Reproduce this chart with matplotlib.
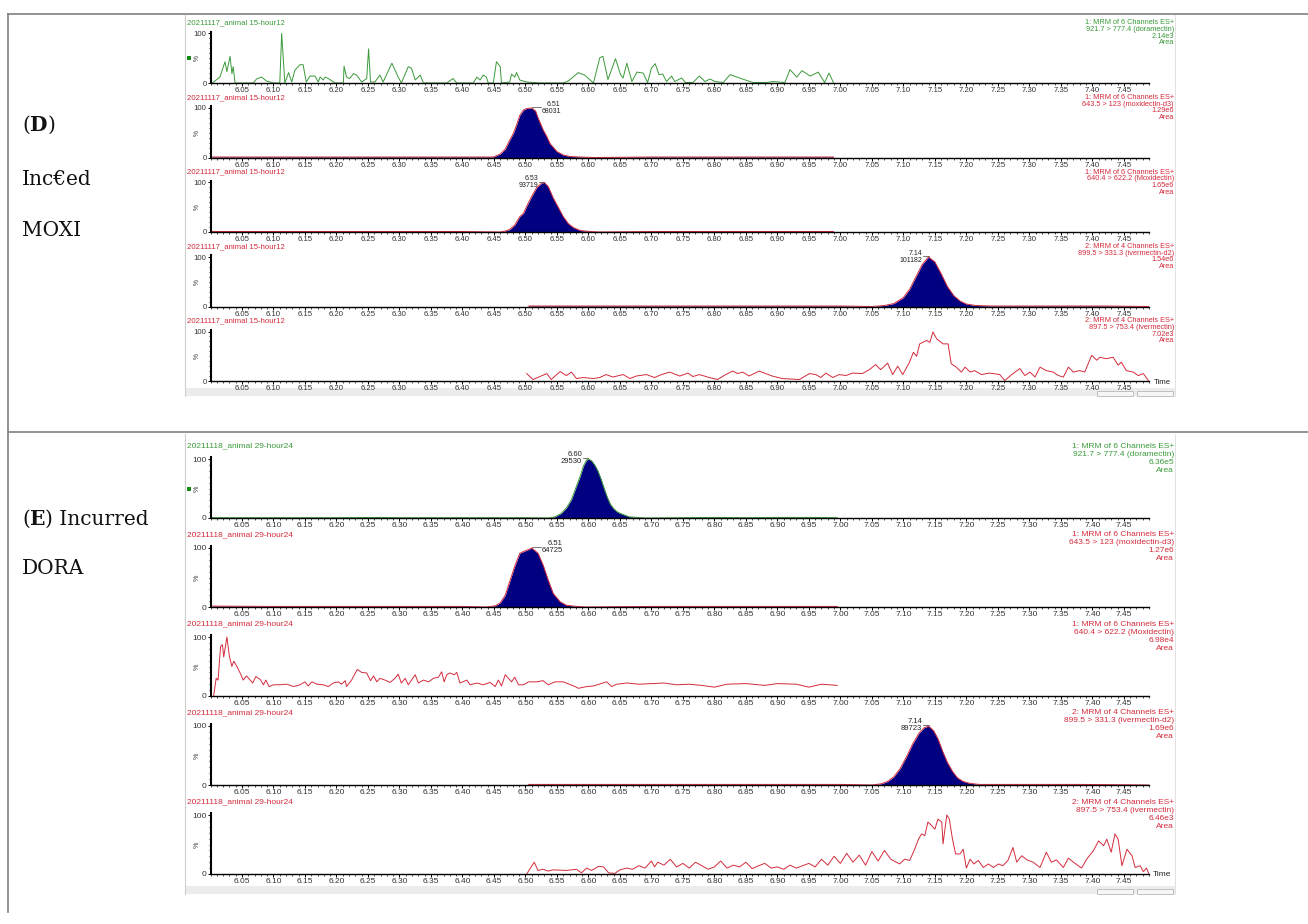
import numpy as np
import matplotlib.pyplot as plt
from matplotlib.ticker import FixedLocator, MultipleLocator
from matplotlib.patches import Rectangle

plt.rcParams['font.family'] = ['Liberation Sans', 'DejaVu Sans']

GREEN = '#3a9a3a'
RED = '#d42b3c'
NAVY = '#000080'
SERIF = ['DejaVu Serif']

# ---------------- panel D : animal 15, hour 12 ----------------
d_sample = '20211117_animal 15-hour12'

d_dora = [(6.003, 0), (6.015, 12), (6.023, 43), (6.026, 23), (6.031, 54), (6.034, 19), (6.036, 33),
          (6.039, 0), (6.068, 0), (6.073, 8), (6.081, 12), (6.089, 4), (6.100, 0), (6.110, 0),
          (6.113, 100), (6.118, 0), (6.124, 21), (6.129, 2), (6.134, 26), (6.142, 37), (6.147, 37),
          (6.152, 2), (6.158, 14), (6.166, 14), (6.171, 2), (6.174, 12), (6.179, 6), (6.182, 12),
          (6.187, 9), (6.198, 0), (6.211, 0), (6.212, 34), (6.216, 12), (6.221, 9), (6.227, 19),
          (6.232, 16), (6.240, 2), (6.248, 9), (6.251, 69), (6.254, 2), (6.261, 2), (6.269, 16),
          (6.274, 2), (6.288, 40), (6.298, 12), (6.303, 0), (6.314, 33), (6.319, 30), (6.325, 6),
          (6.333, 16), (6.338, 0), (6.375, 0), (6.385, 9), (6.391, 0), (6.417, 0), (6.423, 12),
          (6.428, 6), (6.433, 16), (6.438, 12), (6.441, 0), (6.449, 0), (6.454, 43), (6.460, 33),
          (6.462, 0), (6.475, 2), (6.478, 18), (6.483, 12), (6.486, 21), (6.491, 6), (6.502, 2),
          (6.523, 0), (6.560, 0), (6.568, 4), (6.584, 21), (6.594, 16), (6.608, 0), (6.618, 51),
          (6.623, 54), (6.631, 7), (6.643, 49), (6.651, 17), (6.655, 10), (6.661, 40), (6.669, 3),
          (6.677, 22), (6.687, 20), (6.694, 1), (6.700, 30), (6.706, 39), (6.712, 17), (6.718, 18),
          (6.724, 3), (6.732, 14), (6.737, 3), (6.748, 10), (6.754, 1), (6.766, 1), (6.776, 14),
          (6.785, 3), (6.793, 8), (6.801, 3), (6.814, 1), (6.825, 17), (6.840, 10), (6.861, 1),
          (6.883, 1), (6.893, 3), (6.912, 1), (6.920, 27), (6.931, 12), (6.939, 25), (6.952, 14),
          (6.965, 22), (6.975, 1), (6.982, 20), (6.989, 1)]

d_moxi_d3 = [(6.003, 1), (6.10, 1), (6.20, 1), (6.30, 1), (6.40, 1), (6.449, 1), (6.460, 7),
             (6.468, 17), (6.475, 35), (6.481, 49), (6.486, 66), (6.491, 85), (6.497, 96),
             (6.502, 99), (6.510, 100), (6.516, 94), (6.520, 80), (6.528, 56), (6.534, 42),
             (6.539, 28), (6.550, 12), (6.560, 5), (6.571, 2), (6.587, 1), (6.608, 0), (6.70, 1),
             (6.80, 1), (6.90, 1), (6.989, 1)]

d_moxi = [(6.003, 1), (6.10, 1), (6.20, 1), (6.30, 1), (6.40, 1), (6.460, 0), (6.468, 2),
          (6.475, 5), (6.483, 14), (6.491, 31), (6.497, 38), (6.502, 52), (6.510, 72), (6.518, 90),
          (6.526, 99), (6.530, 100), (6.536, 92), (6.544, 69), (6.552, 50), (6.560, 31),
          (6.568, 17), (6.576, 9), (6.587, 3), (6.602, 1), (6.618, 0), (6.70, 1), (6.80, 1),
          (6.90, 1), (6.989, 1)]

d_iver_d2 = [(6.505, 1), (6.60, 1), (6.70, 1), (6.80, 1), (6.90, 1), (7.00, 1), (7.050, 0),
             (7.070, 2), (7.085, 6), (7.100, 18), (7.110, 35), (7.120, 60), (7.130, 85),
             (7.140, 100), (7.150, 90), (7.160, 66), (7.170, 40), (7.180, 22), (7.190, 11),
             (7.200, 5), (7.215, 2), (7.240, 1), (7.270, 1), (7.35, 1), (7.42, 1), (7.49, 0)]

d_iver = [(6.502, 15), (6.512, 3), (6.534, 15), (6.541, 3), (6.555, 19), (6.565, 11), (6.573, 18),
          (6.581, 5), (6.592, 7), (6.608, 5), (6.618, 7), (6.628, 13), (6.639, 8), (6.655, 13),
          (6.666, 5), (6.676, 10), (6.692, 13), (6.705, 7), (6.716, 13), (6.729, 18), (6.745, 10),
          (6.758, 16), (6.766, 9), (6.776, 13), (6.792, 7), (6.805, 3), (6.818, 13), (6.829, 20),
          (6.837, 15), (6.845, 18), (6.855, 10), (6.871, 20), (6.892, 10), (6.908, 5), (6.935, 3),
          (6.951, 15), (6.961, 13), (6.969, 7), (6.977, 16), (6.988, 7), (6.998, 13), (7.009, 11),
          (7.019, 16), (7.035, 15), (7.046, 23), (7.056, 33), (7.064, 23), (7.075, 36), (7.083, 13),
          (7.091, 30), (7.099, 13), (7.109, 36), (7.116, 58), (7.121, 50), (7.126, 75), (7.137, 82),
          (7.142, 78), (7.147, 99), (7.153, 85), (7.163, 75), (7.171, 75), (7.176, 35), (7.184, 28),
          (7.192, 18), (7.198, 28), (7.206, 18), (7.213, 21), (7.224, 13), (7.237, 16), (7.253, 13),
          (7.261, 1), (7.274, 15), (7.285, 25), (7.293, 11), (7.301, 18), (7.309, 8), (7.317, 28),
          (7.327, 21), (7.338, 18), (7.346, 11), (7.354, 8), (7.362, 28), (7.370, 18), (7.380, 21),
          (7.388, 18), (7.399, 52), (7.407, 42), (7.412, 48), (7.422, 45), (7.433, 48), (7.441, 32),
          (7.446, 38), (7.454, 21), (7.465, 18), (7.473, 11), (7.481, 15), (7.489, 1)]

d_headers = [('1: MRM of 6 Channels ES+', '921.7 > 777.4 (doramectin)', '2.14e3', 'Area'),
             ('1: MRM of 6 Channels ES+', '643.5 > 123 (moxidectin-d3)', '1.29e6', 'Area'),
             ('1: MRM of 6 Channels ES+', '640.4 > 622.2 (Moxidectin)', '1.65e6', 'Area'),
             ('2: MRM of 4 Channels ES+', '899.5 > 331.3 (ivermectin-d2)', '1.54e6', 'Area'),
             ('2: MRM of 4 Channels ES+', '897.5 > 753.4 (ivermectin)', '7.02e3', 'Area')]
d_peaks = [None, ('6.51', '68031', 'right'), ('6.53', '93719', 'left'),
           ('7.14', '101182', 'left'), None]

# ---------------- panel E : animal 29, hour 24 ----------------
e_sample = '20211118_animal 29-hour24'

e_dora = [(6.003, 0.5), (6.10, 0.5), (6.20, 0.5), (6.27, 1), (6.30, 0.5), (6.40, 0.5), (6.50, 0.5),
          (6.536, 0), (6.547, 2), (6.557, 8), (6.565, 17), (6.573, 31), (6.581, 54), (6.587, 71),
          (6.592, 88), (6.597, 98), (6.600, 100), (6.605, 97), (6.610, 90), (6.615, 80),
          (6.620, 66), (6.625, 50), (6.630, 35), (6.635, 23), (6.640, 16), (6.645, 11), (6.650, 8),
          (6.655, 6), (6.665, 2), (6.690, 0), (6.75, 0.5), (6.80, 1), (6.85, 0.5), (6.90, 1),
          (6.95, 1), (6.995, 0.5)]

e_moxi_d3 = [(6.003, 1.5), (6.10, 1), (6.20, 1), (6.30, 1), (6.40, 1), (6.438, 0), (6.452, 2),
             (6.460, 7), (6.468, 20), (6.475, 43), (6.483, 69), (6.491, 91), (6.497, 94),
             (6.504, 97), (6.510, 100), (6.520, 91), (6.528, 71), (6.536, 46), (6.544, 23),
             (6.555, 9), (6.565, 3), (6.581, 1), (6.597, 0), (6.70, 1), (6.80, 1), (6.90, 1),
             (6.995, 1)]

e_moxi = [(6.005, 0), (6.009, 30), (6.012, 27), (6.016, 84), (6.019, 87), (6.021, 66), (6.026, 100),
          (6.030, 67), (6.034, 50), (6.037, 59), (6.042, 50), (6.047, 39), (6.052, 27), (6.057, 34),
          (6.063, 27), (6.067, 22), (6.072, 33), (6.079, 28), (6.084, 19), (6.088, 27), (6.093, 16),
          (6.100, 19), (6.110, 19), (6.121, 20), (6.132, 16), (6.142, 19), (6.150, 24), (6.155, 17),
          (6.161, 24), (6.169, 20), (6.179, 19), (6.187, 16), (6.195, 22), (6.203, 24), (6.208, 20),
          (6.214, 26), (6.216, 16), (6.224, 27), (6.233, 45), (6.240, 40), (6.248, 39), (6.254, 26),
          (6.259, 34), (6.264, 24), (6.269, 30), (6.277, 27), (6.285, 23), (6.293, 30), (6.298, 37),
          (6.303, 22), (6.309, 30), (6.314, 19), (6.325, 36), (6.330, 22), (6.338, 27), (6.346, 24),
          (6.354, 30), (6.362, 32), (6.367, 41), (6.371, 24), (6.375, 36), (6.380, 39), (6.387, 36),
          (6.391, 40), (6.396, 22), (6.407, 27), (6.412, 19), (6.423, 22), (6.433, 19), (6.444, 23),
          (6.452, 16), (6.457, 27), (6.462, 17), (6.468, 36), (6.473, 30), (6.478, 24), (6.483, 32),
          (6.489, 19), (6.497, 19), (6.505, 24), (6.518, 24), (6.528, 26), (6.536, 19), (6.547, 24),
          (6.560, 24), (6.579, 16), (6.584, 13), (6.597, 16), (6.608, 17), (6.629, 24), (6.637, 16),
          (6.645, 20), (6.661, 22), (6.680, 20), (6.700, 21), (6.720, 22), (6.740, 19), (6.760, 20),
          (6.780, 18), (6.800, 15), (6.820, 20), (6.850, 21), (6.880, 18), (6.900, 21), (6.930, 20),
          (6.950, 15), (6.970, 20), (6.995, 18)]

e_iver_d2 = [(6.505, 1), (6.60, 1), (6.70, 1), (6.80, 1), (6.90, 1), (7.00, 1), (7.050, 0),
             (7.065, 2), (7.075, 6), (7.085, 14), (7.095, 28), (7.105, 48), (7.115, 70),
             (7.125, 88), (7.133, 97), (7.140, 100), (7.148, 92), (7.155, 78), (7.162, 58),
             (7.170, 38), (7.178, 23), (7.186, 12), (7.195, 6), (7.205, 3), (7.220, 1), (7.245, 1),
             (7.30, 1), (7.38, 1), (7.49, 0)]

e_iver = [(6.502, 0), (6.514, 20), (6.520, 6), (6.528, 8), (6.536, 5), (6.544, 7), (6.565, 6),
          (6.581, 8), (6.589, 2), (6.597, 10), (6.605, 6), (6.616, 13), (6.624, 12), (6.632, 2),
          (6.642, 1), (6.650, 7), (6.661, 10), (6.670, 8), (6.680, 14), (6.690, 10), (6.700, 22),
          (6.705, 12), (6.710, 20), (6.720, 15), (6.730, 25), (6.740, 12), (6.750, 18), (6.760, 10),
          (6.770, 20), (6.780, 14), (6.790, 8), (6.800, 12), (6.810, 22), (6.820, 10), (6.830, 15),
          (6.840, 12), (6.850, 20), (6.860, 9), (6.870, 14), (6.880, 18), (6.890, 10), (6.900, 12),
          (6.910, 8), (6.920, 15), (6.930, 10), (6.940, 14), (6.950, 18), (6.960, 12), (6.970, 25),
          (6.980, 15), (6.990, 30), (7.000, 18), (7.010, 35), (7.020, 20), (7.030, 32), (7.040, 15),
          (7.050, 38), (7.060, 22), (7.070, 40), (7.080, 25), (7.094, 17), (7.102, 25), (7.110, 23),
          (7.118, 42), (7.124, 59), (7.129, 68), (7.134, 65), (7.139, 88), (7.145, 82), (7.150, 76),
          (7.155, 93), (7.161, 88), (7.163, 51), (7.169, 100), (7.173, 93), (7.178, 59), (7.183, 34),
          (7.190, 34), (7.195, 42), (7.200, 10), (7.206, 25), (7.212, 17), (7.219, 23), (7.227, 11),
          (7.235, 17), (7.243, 11), (7.251, 17), (7.258, 14), (7.266, 23), (7.274, 45), (7.280, 20),
          (7.288, 31), (7.296, 24), (7.306, 20), (7.317, 11), (7.327, 37), (7.335, 20), (7.343, 24),
          (7.354, 11), (7.362, 27), (7.370, 20), (7.383, 10), (7.391, 25), (7.402, 40), (7.410, 56),
          (7.418, 48), (7.423, 59), (7.430, 37), (7.436, 68), (7.441, 59), (7.447, 14), (7.455, 42),
          (7.463, 31), (7.468, 11), (7.476, 14), (7.481, 4), (7.486, 10), (7.490, 0)]

e_headers = [('1: MRM of 6 Channels ES+', '921.7 > 777.4 (doramectin)', '6.36e5', 'Area'),
             ('1: MRM of 6 Channels ES+', '643.5 > 123 (moxidectin-d3)', '1.27e6', 'Area'),
             ('1: MRM of 6 Channels ES+', '640.4 > 622.2 (Moxidectin)', '6.98e4', 'Area'),
             ('2: MRM of 4 Channels ES+', '899.5 > 331.3 (ivermectin-d2)', '1.69e6', 'Area'),
             ('2: MRM of 4 Channels ES+', '897.5 > 753.4 (ivermectin)', '6.46e3', 'Area')]
e_peaks = [('6.60', '29530', 'left'), ('6.51', '64725', 'right'), None,
           ('7.14', '89723', 'left'), None]

# row 1 is the doramectin channel (green), the rest are red
colors = [GREEN, RED, RED, RED, RED]
d_kinds = ['line', 'peak', 'peak', 'peak', 'line']
e_kinds = ['peak', 'peak', 'line', 'peak', 'line']

major_ticks = np.round(np.arange(6.05, 7.451, 0.05), 2)

W, H = 1308, 924
X0, X1 = 210.5, 1149.0   # pixel span of 6.00 .. 7.49 min

fig = plt.figure(figsize=(W / 100, H / 100), dpi=100)

# background layer in pixel units (table rules, screenshot frame, labels)
bg = fig.add_axes([0, 0, 1, 1])
bg.set_xlim(0, W)
bg.set_ylim(H, 0)
bg.axis('off')

# table rules
bg.plot([8, W], [14, 14], color='#808080', lw=1.2)
bg.plot([8, W], [432, 432], color='#808080', lw=1.2)
bg.plot([8, 8], [14, 912], color='#808080', lw=1.2)


def frame(top, bottom):
    bg.plot([185, 185], [top, bottom], color='#cfcfcf', lw=0.8)
    bg.plot([1175, 1175], [top, bottom], color='#e2e2e2', lw=0.8)
    bg.add_patch(Rectangle((185, bottom - 8), 990, 8, color='#ececec', lw=0))
    for bx in (1097, 1137):
        bg.add_patch(Rectangle((bx, bottom - 5), 36, 5, facecolor='#f6f6f6',
                               edgecolor='#b8b8b8', lw=0.6))


frame(15, 396)
frame(434, 894)


def chrom_axes(zero_px, h100, fs):
    height = 1.04 * h100
    ax = fig.add_axes([X0 / W, 1 - zero_px / H, (X1 - X0) / W, height / H])
    ax.set_xlim(6.0, 7.49)
    ax.set_ylim(0, 104)
    ax.patch.set_alpha(0)
    for s in ('top', 'right'):
        ax.spines[s].set_visible(False)
    ax.spines['left'].set_linewidth(1.5)
    ax.spines['bottom'].set_linewidth(1.0)
    ax.xaxis.set_major_locator(FixedLocator(major_ticks))
    ax.xaxis.set_major_formatter(lambda v, p: f'{v:.2f}')
    ax.xaxis.set_minor_locator(MultipleLocator(0.01))
    ax.set_yticks([0, 100], ['0', '100'])
    ax.yaxis.set_minor_locator(MultipleLocator(10))
    ax.tick_params(axis='x', which='major', length=2.4, width=0.7, labelsize=fs,
                   pad=0.8, labelcolor='#333333')
    ax.tick_params(axis='x', which='minor', length=1.4, width=0.5)
    ax.tick_params(axis='y', which='major', length=2.2, width=0.7, labelsize=fs,
                   pad=0.6, labelcolor='#333333')
    ax.tick_params(axis='y', which='minor', length=1.2, width=0.5)
    return ax


def draw_panel(zeros, h100, sample, traces, kinds, headers, peaks, head_off, fs, hfs, pfs):
    for i, zero in enumerate(zeros):
        ax = chrom_axes(zero, h100, fs)
        col = colors[i]
        t, v = np.array(traces[i]).T
        if kinds[i] == 'peak':
            ax.fill_between(t, 0, v, color=NAVY, lw=0)
        ax.plot(t, v, color=col, lw=0.7)

        if peaks[i] is not None:
            rt, area, side = peaks[i]
            apex = float(rt)
            if side == 'right':
                ax.plot([apex, apex + 0.014], [102, 102], color='#444444', lw=0.5)
                ax.text(apex + 0.015, 101, f'{rt}\n{area}', ha='left', va='center',
                        multialignment='right', fontsize=pfs, linespacing=1.0, color='#222222')
            else:
                ax.plot([apex - 0.009, apex], [102, 102], color='#444444', lw=0.5)
                ax.text(apex - 0.010, 101, f'{rt}\n{area}', ha='right', va='center',
                        multialignment='right', fontsize=pfs, linespacing=1.0, color='#222222')

        # sample name, % label and channel description
        bg.text(187, zero + head_off[0], sample, color=col, fontsize=fs,
                ha='left', va='center')
        bg.text(197, zero - 0.5 * h100, '%', color='#333333', fontsize=fs - 0.8,
                rotation=90, ha='center', va='center')
        for k, line in enumerate(headers[i]):
            bg.text(1174, zero + head_off[k], line, color=col, fontsize=hfs,
                    ha='right', va='center')

    bg.text(1162, zeros[-1] + 1, 'Time', color='#222222', fontsize=fs, ha='center', va='center')
    bg.add_patch(Rectangle((187, zeros[0] - 0.5 * h100 - 2), 4, 4, color='#108a10', lw=0))


draw_panel([83, 157.5, 232, 306.5, 381], 49.5, d_sample,
           [d_dora, d_moxi_d3, d_moxi, d_iver_d2, d_iver], d_kinds, d_headers, d_peaks,
           [-60, -53.3, -46.7, -40], 5.6, 5.3, 5.0)

draw_panel([518, 607, 696, 785, 874], 59, e_sample,
           [e_dora, e_moxi_d3, e_moxi, e_iver_d2, e_iver], e_kinds, e_headers, e_peaks,
           [-72, -64, -56, -48], 6.0, 6.0, 5.5)

# row labels of the table
renderer = fig.canvas.get_renderer()


def mixed_text(x, y, parts, size=14.5):
    for s, weight in parts:
        t = bg.text(x, y, s, fontsize=size, fontweight=weight, family=SERIF,
                    ha='left', va='baseline', color='#111111')
        bb = t.get_window_extent(renderer)
        x = bg.transData.inverted().transform((bb.x1, bb.y0))[0]


mixed_text(22, 131, [('(', 'normal'), ('D', 'bold'), (')', 'normal')])
mixed_text(22, 185, [('Inc€ed', 'normal')])
mixed_text(22, 236, [('MOXI', 'normal')])
mixed_text(22, 525, [('(', 'normal'), ('E', 'bold'), (') Incurred', 'normal')])
mixed_text(22, 574, [('DORA', 'normal')])

fig.savefig('out.png', dpi=100)
